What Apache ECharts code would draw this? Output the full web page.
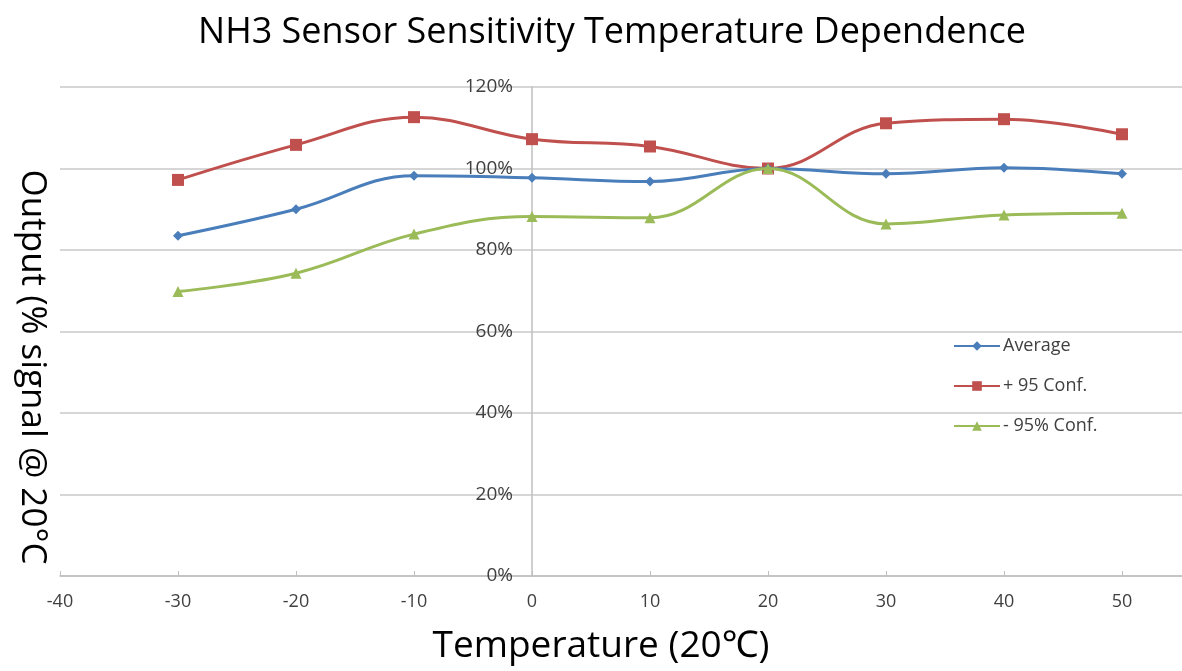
<!DOCTYPE html>
<html><head><meta charset="utf-8">
<script src="https://cdn.jsdelivr.net/npm/echarts@6/dist/echarts.min.js"></script>
<style>html,body{margin:0;padding:0;background:#fff}#c{width:1182px;height:671px}</style>
</head><body><div id="c"></div>
<script>
const temperatures = [-30, -20, -10, 0, 10, 20, 30, 40, 50];
const average   = [83.5, 90.0, 98.2, 97.7, 96.8, 100, 98.7, 100.2, 98.7];
const plus95    = [97.2, 105.8, 112.6, 107.2, 105.4, 100, 111.1, 112.1, 108.4];
const minus95   = [69.8, 74.3, 83.9, 88.2, 87.9, 100, 86.4, 88.6, 89.0];
const seriesNames = ['Average', '+ 95 Conf.', '- 95% Conf.'];
const yTicks = [0, 20, 40, 60, 80, 100, 120];

const font = '"Open Sans", "Noto Sans", sans-serif';
const W = 1182, H = 671;
const gridLeft = 60, gridRightEdge = 1240, xMin = -40, xMax = 60;
const zeroX = gridLeft + (0 - xMin) / (xMax - xMin) * (gridRightEdge - gridLeft);
const pair = arr => temperatures.map((t, i) => [t, arr[i]]);
const chart = echarts.init(document.getElementById('c'));
chart.setOption({
  animation: false,
  backgroundColor: '#fff',
  title: {
    text: 'NH3 Sensor Sensitivity Temperature Dependence',
    left: 607, textAlign: 'center', top: 10,
    textStyle: { fontFamily: font, fontSize: 36, fontWeight: 'normal', color: '#000' }
  },
  graphic: [{
    type: 'text', x: 32, y: 367, rotation: -Math.PI / 2,
    style: { text: 'Output (% signal @ 20°C', font: '35px ' + font, fill: '#000', align: 'center', verticalAlign: 'middle' }
  }, {
    type: 'text', x: 601, y: 646,
    style: { text: 'Temperature (20\u2103)', font: '37px ' + font, fill: '#000', align: 'center', verticalAlign: 'middle' }
  }],
  legend: {
    orient: 'vertical', left: 948, top: 332, itemGap: 22, itemWidth: 46, itemHeight: 12,
    data: seriesNames,
    textStyle: { fontFamily: font, fontSize: 18, color: '#404040', padding: [0, 0, 0, -2] }
  },
  grid: { left: gridLeft, top: 87, bottom: H - 576, right: W - gridRightEdge, containLabel: false, outerBoundsMode: 'none' },
  xAxis: {
    type: 'value', min: xMin, max: xMax, interval: 10,
    axisLine: { show: true, onZero: false, lineStyle: { color: '#BFBFBF', width: 1.5 } },
    axisTick: { show: true, inside: true, length: 5, lineStyle: { color: '#BFBFBF' } },
    axisLabel: { margin: 17, fontFamily: font, fontSize: 18, color: '#404040',
      formatter: v => v > 50 ? '' : String(v) },
    splitLine: { show: false }
  },
  yAxis: {
    type: 'value', min: 0, max: 120, interval: 20,
    offset: -(zeroX - gridLeft),
    axisLine: { show: true, onZero: false, lineStyle: { color: '#BFBFBF', width: 1.5 } },
    axisTick: { show: false },
    axisLabel: { margin: 19, fontFamily: font, fontSize: 19, color: '#404040',
      formatter: v => yTicks.includes(v) ? v + '%' : '' },
    splitLine: { show: true, lineStyle: { color: '#C8C8C8', width: 1.5 } }
  },
  series: [
    { name: seriesNames[0], type: 'line', smooth: 0.4, data: pair(average),
      symbol: 'diamond', symbolSize: 10, z: 3,
      lineStyle: { color: '#4A7EBB', width: 3 }, itemStyle: { color: '#4A7EBB' } },
    { name: seriesNames[1], type: 'line', smooth: 0.4, data: pair(plus95),
      symbol: 'rect', symbolSize: 12, z: 2,
      lineStyle: { color: '#C0504D', width: 3 }, itemStyle: { color: '#C0504D' } },
    { name: seriesNames[2], type: 'line', smooth: 0.4, data: pair(minus95),
      symbol: 'triangle', symbolSize: 11, z: 4,
      lineStyle: { color: '#9BBB59', width: 3 }, itemStyle: { color: '#9BBB59' } }
  ]
});
</script></body></html>
